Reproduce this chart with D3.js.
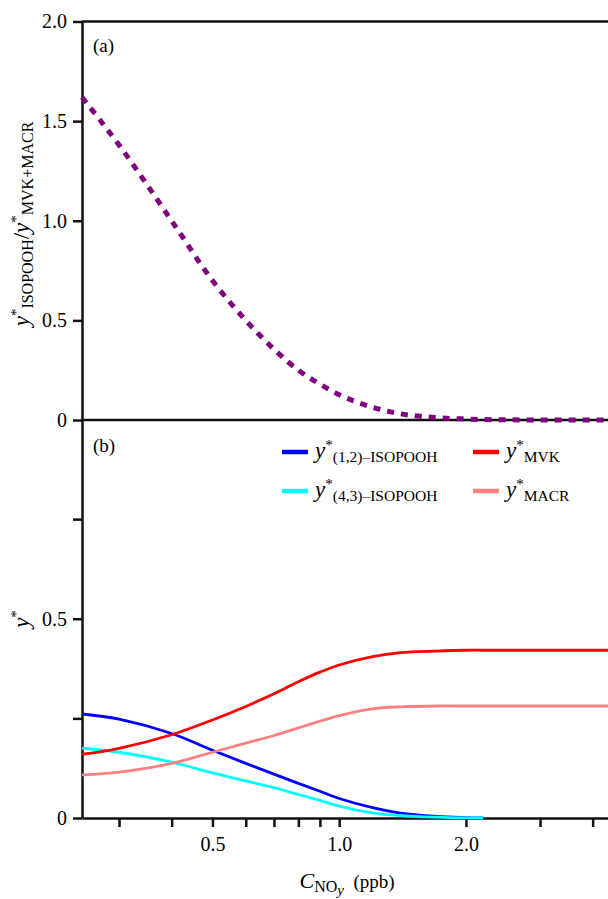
<!DOCTYPE html>
<html>
<head>
<meta charset="utf-8">
<script src="https://cdn.jsdelivr.net/npm/d3@7"></script>
<style>
  body { margin: 0; background: #fff; }
  text { font-family: "Liberation Serif", "Times New Roman", serif; fill: #000; }
</style>
</head>
<body>
<div id="chart"></div>
<script>
// data
var cnoy = [0.245, 0.3, 0.4, 0.5, 0.6, 0.7, 0.8, 0.9, 1.0, 1.2, 1.4, 1.7, 2.0, 2.2, 2.5, 3.0, 4.35];
var ratio = [1.62, 1.38, 1.0, 0.70, 0.50, 0.355, 0.25, 0.18, 0.127, 0.064, 0.031, 0.012, 0.005, 0.002, 0.001, 0, 0];
var isopooh12 = [0.261, 0.248, 0.212, 0.170, 0.137, 0.110, 0.087, 0.067, 0.049, 0.026, 0.012, 0.004, 0.001, 0, null, null, null];
var isopooh43 = [0.175, 0.165, 0.140, 0.113, 0.093, 0.076, 0.059, 0.044, 0.030, 0.013, 0.006, 0.002, 0.0003, 0, null, null, null];
var mvk = [0.160, 0.175, 0.209, 0.246, 0.280, 0.312, 0.342, 0.366, 0.384, 0.405, 0.415, 0.419, 0.421, 0.421, 0.421, 0.421, 0.421];
var macr = [0.108, 0.115, 0.137, 0.165, 0.188, 0.207, 0.226, 0.243, 0.257, 0.274, 0.279, 0.281, 0.281, 0.281, 0.281, 0.281, 0.281];

var xticks = [0.3, 0.4, 0.5, 0.6, 0.7, 0.8, 0.9, 1, 2, 3, 4];
var xlabels = {0.5: "0.5", 1: "1.0", 2: "2.0"};
var yticksA = [0, 0.5, 1, 1.5, 2];
var ylabelsA = {0: "0", 0.5: "0.5", 1: "1.0", 1.5: "1.5", 2: "2.0"};
var yticksB = [0, 0.25, 0.5, 0.75];
var ylabelsB = {0: "0", 0.5: "0.5"};

var series = [
  {name: "(1,2)–ISOPOOH", values: isopooh12, color: "#0000ff"},
  {name: "(4,3)–ISOPOOH", values: isopooh43, color: "#00ffff"},
  {name: "MVK", values: mvk, color: "#ff0000"},
  {name: "MACR", values: macr, color: "#ff8080"}
];

var svgwidth = 608;
var svgheight = 899;
var serif = "'Liberation Serif', 'Times New Roman', serif";

var svg = d3.select("#chart").append("svg")
  .attr("width", svgwidth)
  .attr("height", svgheight);

// scales
var xscale = d3.scaleLog().domain([0.245, 4.35]).range([82, 608]);
var yscaleA = d3.scaleLinear().domain([0, 2]).range([420, 21.5]);
var yscaleB = d3.scaleLinear().domain([0, 1]).range([818, 419.5]);

function styleAxis(g) {
  g.attr("font-family", serif);
  g.select(".domain").attr("stroke", "#111").attr("stroke-width", 2.5);
  g.selectAll(".tick line").attr("stroke", "#111").attr("stroke-width", 2.5);
  g.selectAll(".tick text").attr("font-size", "20px").attr("font-family", serif);
}

// x axis at the bottom
var xaxis = d3.axisBottom(xscale)
  .tickValues(xticks)
  .tickSize(9)
  .tickSizeOuter(0)
  .tickPadding(10)
  .tickFormat(d => xlabels[d] || "");
svg.append("g")
  .attr("transform", "translate(0, 818)")
  .call(xaxis)
  .call(styleAxis);

// panel (a) y axis
svg.append("g")
  .attr("transform", "translate(82, 0)")
  .call(d3.axisLeft(yscaleA).tickValues(yticksA).tickSize(9).tickSizeOuter(0).tickPadding(6)
    .tickFormat(d => ylabelsA[d] || ""))
  .call(styleAxis);

// panel (b) y axis
svg.append("g")
  .attr("transform", "translate(82, 0)")
  .call(d3.axisLeft(yscaleB).tickValues(yticksB).tickSize(9).tickSizeOuter(0).tickPadding(6)
    .tickFormat(d => ylabelsB[d] || ""))
  .call(styleAxis);

// frame lines across the top and between panels
[yscaleA(2), yscaleA(0)].forEach(function(y) {
  svg.append("line")
    .attr("x1", 82).attr("x2", 608)
    .attr("y1", y).attr("y2", y)
    .attr("stroke", "#111")
    .attr("stroke-width", 2.5);
});

// panel (a) dotted curve
var lineA = d3.line()
  .x((d, i) => xscale(cnoy[i]))
  .y(d => yscaleA(d))
  .curve(d3.curveMonotoneX);

svg.append("path")
  .datum(ratio)
  .attr("d", lineA)
  .attr("fill", "none")
  .attr("stroke", "#800080")
  .attr("stroke-width", 5)
  .attr("stroke-dasharray", "7,7");

// panel (b) curves
var lineB = d3.line()
  .defined(d => d !== null)
  .x((d, i) => xscale(cnoy[i]))
  .y(d => yscaleB(d))
  .curve(d3.curveCatmullRom.alpha(0.5));

series.forEach(function(s) {
  svg.append("path")
    .datum(s.values)
    .attr("d", lineB)
    .attr("fill", "none")
    .attr("stroke", s.color)
    .attr("stroke-width", 2.8);
});

// panel labels
svg.append("text").attr("x", 93).attr("y", 52).attr("font-size", "19px").text("(a)");
svg.append("text").attr("x", 93).attr("y", 452).attr("font-size", "19px").text("(b)");

// legend
var legendpos = [[282, 452], [282, 491], [473, 452], [473, 491]];
series.forEach(function(s, i) {
  var p = legendpos[i];
  svg.append("line")
    .attr("x1", p[0]).attr("x2", p[0] + 26)
    .attr("y1", p[1]).attr("y2", p[1])
    .attr("stroke", s.color)
    .attr("stroke-width", 4.5);
  var t = svg.append("text").attr("x", p[0] + 33).attr("y", p[1] + 6);
  t.append("tspan").attr("font-size", "23px").attr("font-style", "italic").text("y");
  t.append("tspan").attr("font-size", "15px").attr("dy", -8).text("*");
  t.append("tspan").attr("font-size", "15.5px").attr("dy", 12).text(s.name);
});

// x axis title
var xt = svg.append("text")
  .attr("x", 347).attr("y", 888)
  .attr("text-anchor", "middle");
xt.append("tspan").attr("font-size", "22px").attr("font-style", "italic").text("C");
xt.append("tspan").attr("font-size", "16px").attr("dy", 4).text("NO");
xt.append("tspan").attr("font-size", "15px").attr("font-style", "italic").attr("dy", 3).text("y");
xt.append("tspan").attr("font-size", "19px").attr("dy", -7).text("\u00a0 (ppb)");

// y axis titles
var ya = svg.append("text")
  .attr("transform", "translate(29, 224) rotate(-90)")
  .attr("text-anchor", "middle");
ya.append("tspan").attr("font-size", "23px").attr("font-style", "italic").text("y");
ya.append("tspan").attr("font-size", "15px").attr("dy", -8).text("*");
ya.append("tspan").attr("font-size", "16px").attr("dy", 12).text("ISOPOOH");
ya.append("tspan").attr("font-size", "23px").attr("dy", -4).text("/");
ya.append("tspan").attr("font-size", "23px").attr("font-style", "italic").text("y");
ya.append("tspan").attr("font-size", "15px").attr("dy", -8).text("*");
ya.append("tspan").attr("font-size", "16px").attr("dy", 12).text("MVK+MACR");

var yb = svg.append("text")
  .attr("transform", "translate(29, 619) rotate(-90)")
  .attr("text-anchor", "middle");
yb.append("tspan").attr("font-size", "23px").attr("font-style", "italic").text("y");
yb.append("tspan").attr("font-size", "15px").attr("dy", -8).text("*");
</script>
</body>
</html>
